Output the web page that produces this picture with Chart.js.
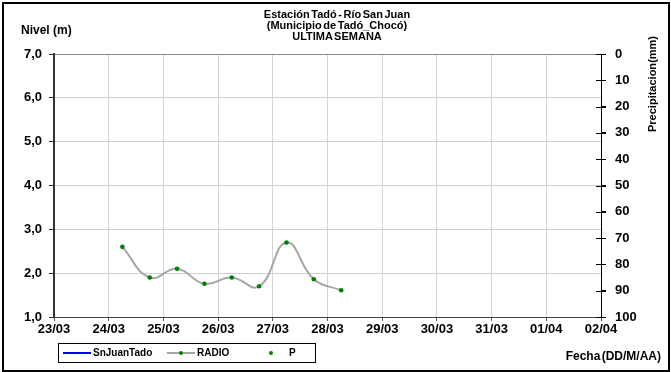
<!DOCTYPE html>
<html lang="es">
<head>
<meta charset="utf-8">
<title>Estación Tadó - Río San Juan</title>
<script src="https://cdn.jsdelivr.net/npm/chart.js@4/dist/chart.umd.min.js"></script>
<style>
    html, body { margin: 0; padding: 0; background: #fff; }
    #wrap { position: relative; width: 671px; height: 372px; overflow: hidden; font-family: "Liberation Sans", Arial, sans-serif; }
    #frame { position: absolute; left: 2px; top: 2px; width: 664px; height: 366px; border: 2px solid #000; pointer-events: none; }
    .txt { position: absolute; font-weight: bold; color: #000; white-space: nowrap; }
    #ttl { left: 237px; top: 9px; width: 200px; text-align: center; font-size: 11px; line-height: 11px; word-spacing: -1.5px; }
    #ylab { left: 21px; top: 23px; font-size: 12px; }
    #y2lab { left: 652px; top: 84px; font-size: 11px; word-spacing: -3px; transform: translate(-50%, -50%) rotate(-90deg); }
    #xlab { right: 10px; top: 349px; font-size: 12px; word-spacing: -2px; }
    #legend { position: absolute; left: 58px; top: 343px; width: 256px; height: 18px; border: 1px solid #000; font-size: 10px; font-weight: bold; }
    #legend .it { position: absolute; top: 0; height: 18px; line-height: 18px; }
    #legend .sw { position: absolute; top: 0; width: 28px; height: 18px; }
</style>
</head>
<body>
<div id="wrap">
    <canvas id="chNivel" width="671" height="372"></canvas>
    <div class="txt" id="ttl">Estación Tadó - Río San Juan<br>(Municipio de Tadó_Chocó)<br>ULTIMA SEMANA</div>
    <div class="txt" id="ylab">Nivel (m)</div>
    <div class="txt" id="y2lab">Precipitacion (mm)</div>
    <div class="txt" id="xlab">Fecha (DD/M/AA)</div>
    <div id="legend"></div>
    <div id="frame"></div>
</div>
<script>
    "use strict";

    // eje X: un dia por division
    const dias = ["23/03", "24/03", "25/03", "26/03", "27/03", "28/03", "29/03", "30/03", "31/03", "01/04", "02/04"];

    // serie RADIO (lecturas cada 12 h)
    const radioFechas = ["24/03 06:00", "24/03 18:00", "25/03 06:00", "25/03 18:00", "26/03 06:00",
                         "26/03 18:00", "27/03 06:00", "27/03 18:00", "28/03 06:00"];
    const radioNivel = [2.60, 1.90, 2.10, 1.76, 1.90, 1.70, 2.70, 1.86, 1.61];

    // series sin datos en la semana
    const snJuanNivel = [];
    const precipitacion = [];

    const nivelTicks = [1, 2, 3, 4, 5, 6, 7];
    const precTicks = [0, 10, 20, 30, 40, 50, 60, 70, 80, 90, 100];

    const FONT = "'Liberation Sans', Arial, sans-serif";

    function fechaToX(s) {
        // "dd/mm hh:mm" -> posicion en dias desde el primer dia
        const [d, h] = s.split(" ");
        const idx = dias.indexOf(d);
        const [hh, mm] = h.split(":").map(Number);
        return idx + (hh + mm / 60) / 24;
    }

    const radioPts = radioFechas.map((f, i) => ({ x: fechaToX(f), y: radioNivel[i] }));

    const fixSize = (prop, v) => (scale) => { scale[prop] = v; };

    // ticks del eje derecho cruzando la linea
    const crossTicks = {
        id: "crossTicks",
        afterDraw(chart) {
            const s = chart.scales.y2;
            const ctx = chart.ctx;
            ctx.save();
            ctx.strokeStyle = "#000";
            ctx.lineWidth = 1;
            ctx.beginPath();
            s.ticks.forEach((t) => {
                const y = Math.round(s.getPixelForValue(t.value)) + 0.5;
                ctx.moveTo(s.left - 5, y);
                ctx.lineTo(s.left + 5, y);
            });
            ctx.stroke();
            ctx.restore();
        }
    };

    const chart = new Chart(document.getElementById("chNivel"), {
        type: "line",
        data: {
            datasets: [
                {
                    label: "SnJuanTado",
                    data: snJuanNivel,
                    borderColor: "#0000ff",
                    borderWidth: 2,
                    pointRadius: 0,
                    yAxisID: "y"
                },
                {
                    label: "RADIO",
                    data: radioPts,
                    borderColor: "#a6a6a6",
                    borderWidth: 2,
                    tension: 0.45,
                    pointRadius: 2.3,
                    pointBackgroundColor: "#008000",
                    pointBorderColor: "#008000",
                    pointBorderWidth: 0,
                    yAxisID: "y"
                },
                {
                    label: "P",
                    data: precipitacion,
                    showLine: false,
                    pointRadius: 2,
                    pointBackgroundColor: "#008000",
                    pointBorderColor: "#008000",
                    yAxisID: "y2"
                }
            ]
        },
        options: {
            responsive: false,
            animation: false,
            layout: { padding: { top: 54, left: 0, right: 0, bottom: 0 } },
            plugins: {
                legend: { display: false },
                title: { display: false },
                tooltip: { enabled: false }
            },
            scales: {
                x: {
                    type: "linear",
                    min: 0,
                    max: dias.length - 1,
                    afterFit: fixSize("height", 55),
                    afterBuildTicks: (s) => { s.ticks = dias.map((d, i) => ({ value: i })); },
                    ticks: {
                        callback: (v) => dias[v] ?? "",
                        color: "#000",
                        font: { family: FONT, size: 13, weight: "bold" },
                        padding: 1,
                        maxRotation: 0,
                        autoSkip: false
                    },
                    grid: { color: "#d4d4d4", lineWidth: 1, tickLength: 4, tickColor: "#555" },
                    border: { color: "#444", width: 1 }
                },
                y: {
                    position: "left",
                    min: 1,
                    max: 7,
                    afterFit: fixSize("width", 54),
                    afterBuildTicks: (s) => { s.ticks = nivelTicks.map((v) => ({ value: v })); },
                    ticks: {
                        callback: (v) => v.toFixed(1).replace(".", ","),
                        color: "#000",
                        font: { family: FONT, size: 13, weight: "bold" },
                        padding: 7
                    },
                    grid: {
                        color: (c) => (c.tick && c.tick.value === 7 ? "#888" : "#cfcfcf"),
                        lineWidth: 1,
                        tickLength: 5,
                        tickColor: "#333"
                    },
                    border: { color: "#333", width: 2 }
                },
                y2: {
                    position: "right",
                    min: 0,
                    max: 100,
                    reverse: true,
                    afterFit: fixSize("width", 70),
                    afterBuildTicks: (s) => { s.ticks = precTicks.map((v) => ({ value: v })); },
                    ticks: {
                        color: "#000",
                        font: { family: FONT, size: 13, weight: "bold" },
                        padding: 9
                    },
                    grid: { drawOnChartArea: false, tickLength: 5, tickColor: "#000" },
                    border: { color: "#000", width: 1 }
                }
            }
        },
        plugins: [crossTicks]
    });

    // leyenda propia, con recuadro como en la planilla
    (function buildLegend() {
        const box = document.getElementById("legend");
        const pos = [{ sw: 4, tx: 34 }, { sw: 108, tx: 138 }, { sw: 198, tx: 230 }];
        chart.data.datasets.forEach((ds, i) => {
            const p = pos[i];
            const sw = document.createElement("div");
            sw.className = "sw";
            sw.style.left = p.sw + "px";
            const line = ds.showLine === false ? "" :
                `<div style="position:absolute;left:0;right:0;top:8px;height:2px;background:${ds.borderColor}"></div>`;
            const dot = ds.pointRadius ?
                `<div style="position:absolute;left:12px;top:7px;width:4px;height:4px;border-radius:2px;background:${ds.pointBackgroundColor}"></div>` : "";
            sw.innerHTML = line + dot;
            box.appendChild(sw);

            const it = document.createElement("div");
            it.className = "it";
            it.style.left = p.tx + "px";
            it.textContent = ds.label;
            box.appendChild(it);
        });
    })();
</script>
</body>
</html>
